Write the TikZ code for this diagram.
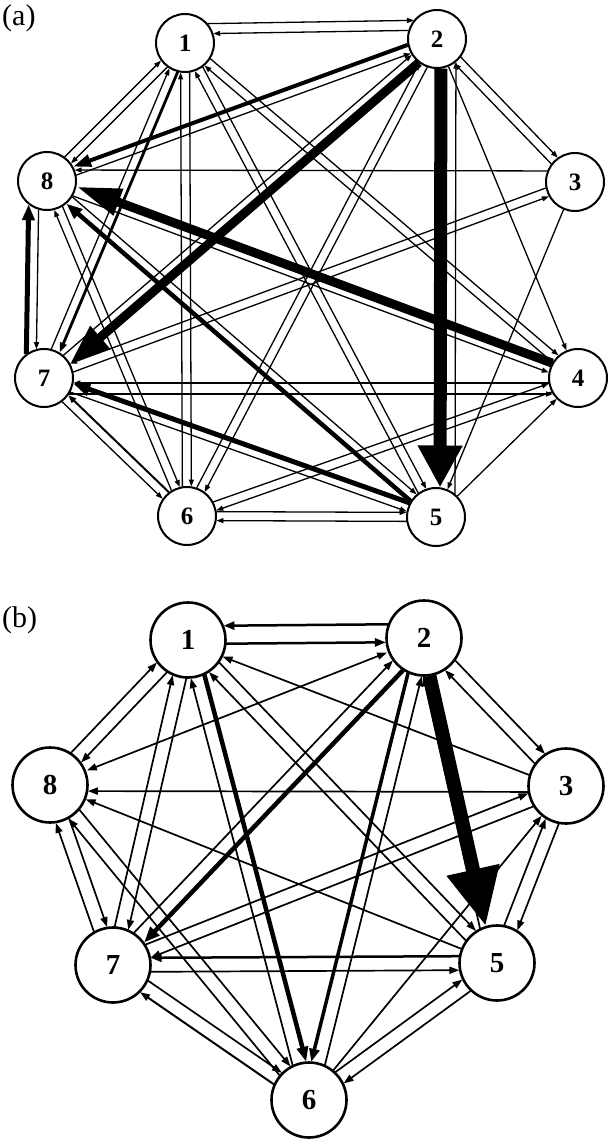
\documentclass[tikz,border=0pt]{standalone}
\usepackage{fontspec}
\setmainfont{Liberation Serif}
\usetikzlibrary{calc,arrows.meta}
\pgfdeclarelayer{bgl}
\pgfdeclarelayer{edgel}
\pgfsetlayers{bgl,edgel,main}
% edge: from, to, offset, width, tip length, tip width
\newcommand\edg[6]{%
  \pgfmathsetlengthmacro\shA{sqrt(\Rr*\Rr-(#3)*(#3))+0.8}%
  \draw[line width=#4pt,-{Triangle[length=#5pt,width=#6pt]},shorten <=\shA,shorten >=\shA]
    ($(#1)!#3pt!90:(#2)$) -- ($(#2)!#3pt!-90:(#1)$);}
\newcommand\oneE[3]{\edg{#1}{#2}{#3}{\Ewd}{\Elen}{\Ewid}}
\newcommand\pairE[2]{\oneE{#1}{#2}{\Eoff}\oneE{#2}{#1}{\Eoff}}
\tikzset{
  nda/.style={circle,draw,fill=white,line width=2pt,minimum size=58pt,inner sep=0pt,
    font=\fontsize{25}{25}\selectfont\bfseries},
  ndb/.style={circle,draw,fill=white,line width=2.6pt,minimum size=75pt,inner sep=0pt,
    font=\fontsize{29}{29}\selectfont\bfseries},
  lab/.style={anchor=base west,inner sep=0pt,font=\fontsize{30}{30}\selectfont}
}
\begin{document}
\begin{tikzpicture}[x=1pt,y=-1pt]
\begin{pgfonlayer}{bgl}
\fill[white] (0,0) rectangle (612,1147);
\end{pgfonlayer}
\useasboundingbox (0,0) rectangle (612,1147);
\node[lab] (la) at (2,26) {(a)};
\node[lab] (lb) at (2,627) {(b)};
% ---------- panel (a) ----------
\node[nda] (a1) at (185,43) {1};
\node[nda] (a2) at (437,39) {2};
\node[nda] (a3) at (575,182) {3};
\node[nda] (a4) at (578,378) {4};
\node[nda] (a5) at (436,517) {5};
\node[nda] (a6) at (187,516) {6};
\node[nda] (a7) at (44,378) {7};
\node[nda] (a8) at (47,181) {8};
\begin{pgfonlayer}{edgel}
\def\Rr{29}\def\Ewd{1.3}\def\Elen{7}\def\Ewid{5}\def\Eoff{4.5}
\oneE{a1}{a2}{19}
\oneE{a2}{a1}{-9}
\pairE{a1}{a8}
\edg{a1}{a7}{4.5}{2.8}{10}{7}
\oneE{a7}{a1}{4.5}
\pairE{a1}{a6}
\pairE{a1}{a5}
\pairE{a1}{a4}
\edg{a2}{a8}{-4.5}{4}{18}{12}
\oneE{a8}{a2}{-4.5}
\edg{a2}{a7}{6}{9}{40}{28}
\oneE{a7}{a2}{4.5}
\pairE{a2}{a6}
\edg{a2}{a5}{4}{13}{42}{42}
\oneE{a5}{a2}{-19}
\oneE{a2}{a4}{0}
\pairE{a2}{a3}
\oneE{a3}{a8}{-11}
\oneE{a3}{a7}{-4.5}
\oneE{a7}{a3}{-4.5}
\oneE{a3}{a5}{0}
\edg{a4}{a8}{-5}{9}{45}{26}
\oneE{a8}{a4}{-5}
\oneE{a4}{a7}{5}
\oneE{a7}{a4}{-16}
\pairE{a4}{a6}
\oneE{a5}{a4}{0}
\edg{a5}{a8}{4.5}{4.5}{16}{12}
\oneE{a8}{a5}{4.5}
\edg{a5}{a7}{-4.5}{5}{17}{13}
\oneE{a7}{a5}{-4.5}
\pairE{a5}{a6}
\edg{a6}{a7}{-4.5}{2}{8}{6}
\oneE{a7}{a6}{-4.5}
\pairE{a6}{a8}
\edg{a7}{a8}{18}{5}{16}{12}
\oneE{a8}{a7}{-8}
\end{pgfonlayer}
% ---------- panel (b) ----------
\node[ndb] (b1) at (188,640) {1};
\node[ndb] (b2) at (424,638) {2};
\node[ndb] (b3) at (566,786) {3};
\node[ndb] (b5) at (497,963) {5};
\node[ndb] (b6) at (309,1100) {6};
\node[ndb] (b7) at (113,965) {7};
\node[ndb] (b8) at (50,785) {8};
\begin{pgfonlayer}{edgel}
\def\Rr{37.5}\def\Ewd{1.7}\def\Elen{10}\def\Ewid{7}\def\Eoff{7}
\edg{b2}{b1}{-14}{2.5}{11}{8}
\edg{b1}{b2}{-4}{2.5}{11}{8}
\oneE{b3}{b1}{3}
\pairE{b1}{b5}
\edg{b1}{b6}{7}{4.5}{15}{11}
\oneE{b6}{b1}{7}
\pairE{b1}{b7}
\pairE{b1}{b8}
\pairE{b2}{b3}
\edg{b2}{b5}{-3}{14}{58}{50}
\oneE{b5}{b2}{9}
\edg{b2}{b6}{-7}{3.5}{13}{10}
\oneE{b6}{b2}{-7}
\edg{b2}{b7}{7}{4.5}{16}{12}
\oneE{b7}{b2}{7}
\draw[line width=\Ewd pt,{Triangle[length=10pt,width=7pt]}-{Triangle[length=10pt,width=7pt]},shorten <=0.8pt,shorten >=0.8pt] (b2) -- (b8);
\pairE{b3}{b5}
\oneE{b6}{b3}{0}
\pairE{b3}{b7}
\oneE{b3}{b8}{6}
\pairE{b5}{b6}
\edg{b5}{b7}{-7}{2.5}{11}{8}
\oneE{b7}{b5}{-7}
\oneE{b5}{b8}{0}
\edg{b6}{b7}{7}{2}{10}{7}
\oneE{b7}{b6}{7}
\pairE{b6}{b8}
\pairE{b7}{b8}
\end{pgfonlayer}
\end{tikzpicture}
\end{document}
